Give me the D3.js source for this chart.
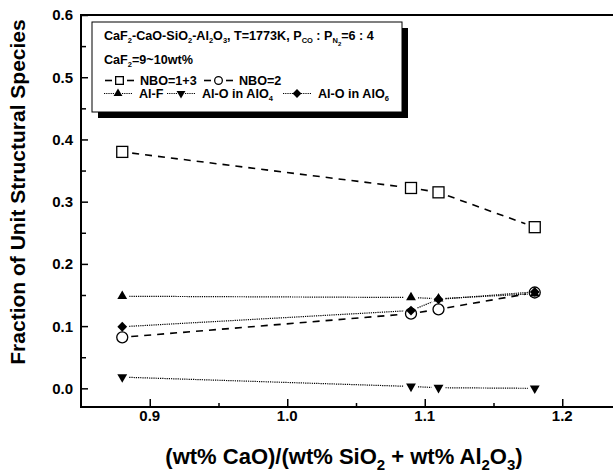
<!DOCTYPE html>
<html>
<head>
<meta charset="utf-8">
<script src="https://cdn.jsdelivr.net/npm/d3@7"></script>
<style>
  html, body { margin: 0; padding: 0; background: #fff; }
  svg { display: block; }
  text { font-family: "Liberation Sans", Arial, Helvetica, sans-serif; font-weight: bold; fill: #000; }
</style>
</head>
<body>
<div id="chart"></div>
<script>
// ---- data ----
const xValues = [0.88, 1.09, 1.11, 1.18];
const nbo13 = [0.380, 0.322, 0.315, 0.259];
const nbo2 = [0.082, 0.120, 0.127, 0.154];
const alF = [0.148, 0.146, 0.144, 0.152];
const alO4 = [0.018, 0.003, 0.001, 0.000];
const alO6 = [0.099, 0.125, 0.143, 0.155];
const xTickValues = [0.9, 1.0, 1.1, 1.2];
const xTickLabels = ["0.9", "1.0", "1.1", "1.2"];
const yTickValues = [0.0, 0.1, 0.2, 0.3, 0.4, 0.5, 0.6];
const yTickLabels = ["0.0", "0.1", "0.2", "0.3", "0.4", "0.5", "0.6"];

const W = 613, H = 473;
const svg = d3.select("#chart").append("svg").attr("width", W).attr("height", H);

const x = d3.scaleLinear().domain([0.85, 1.25]).range([81, 631]);
const y = d3.scaleLinear().domain([-0.03, 0.6]).range([407, 15]);

// ---- axes ----
const yAxis = d3.axisRight(y).tickValues(yTickValues).tickSize(7).tickFormat("");
const yMinor = d3.axisRight(y).tickValues([0.05, 0.15, 0.25, 0.35, 0.45, 0.55]).tickSize(5).tickFormat("");
const xAxis = d3.axisTop(x).tickValues(xTickValues).tickSize(8).tickFormat("");
const xMinor = d3.axisTop(x).tickValues([0.95, 1.05, 1.15]).tickSize(4).tickFormat("");

function styleAxis(g) {
  g.select(".domain").remove();
  g.selectAll(".tick line").attr("stroke", "#000").attr("stroke-width", 1.5);
}
svg.append("g").attr("transform", "translate(81,0)").call(yAxis).call(styleAxis);
svg.append("g").attr("transform", "translate(81,0)").call(yMinor).call(styleAxis);
svg.append("g").attr("transform", "translate(0,407)").call(xAxis).call(styleAxis);
svg.append("g").attr("transform", "translate(0,407)").call(xMinor).call(styleAxis);

// frame lines
svg.append("line").attr("x1", 81).attr("x2", W).attr("y1", 15).attr("y2", 15).attr("stroke", "#000").attr("stroke-width", 2);
svg.append("line").attr("x1", 81).attr("x2", W).attr("y1", 407).attr("y2", 407).attr("stroke", "#000").attr("stroke-width", 2);
svg.append("line").attr("x1", 81).attr("x2", 81).attr("y1", 14).attr("y2", 408).attr("stroke", "#000").attr("stroke-width", 2);

// tick labels
svg.append("g").selectAll("text").data(yTickValues).join("text")
  .attr("x", 73).attr("y", d => y(d)).attr("dy", "0.36em")
  .attr("text-anchor", "end").style("font-size", "15px")
  .text((d, i) => yTickLabels[i]);
svg.append("g").selectAll("text").data(xTickValues).join("text")
  .attr("x", d => x(d)).attr("y", 421)
  .attr("text-anchor", "middle").style("font-size", "15px")
  .text((d, i) => xTickLabels[i]);

// rich text helper: parts = [[text, level]]; level 0 normal, 1 sub, 2 sub-sub
function rich(textSel, parts, base, subSize, shift) {
  let cur = 0;
  parts.forEach(([t, lvl]) => {
    const target = lvl * shift;
    const ts = textSel.append("tspan").text(t)
      .style("font-size", (lvl === 0 ? base : (lvl === 1 ? subSize : subSize * 0.8)) + "px");
    ts.attr("dy", target - cur);
    cur = target;
  });
}

// axis titles
const xt = svg.append("text").attr("x", 344).attr("y", 464).attr("text-anchor", "middle").style("font-size", "22px");
rich(xt, [["(wt% CaO)/(wt% SiO", 0], ["2", 1], [" + wt% Al", 0], ["2", 1], ["O", 0], ["3", 1], [")", 0]], 22, 15, 6);

svg.append("text")
  .attr("transform", "translate(25,192) rotate(-90)")
  .attr("text-anchor", "middle").style("font-size", "21px")
  .text("Fraction of Unit Structural Species");

// ---- series ----
const series = [
  { name: "NBO=1+3", values: nbo13, dash: "7,6", width: 1.6, sym: "square", trim: 10, dashed: true },
  { name: "NBO=2", values: nbo2, dash: "7,6", width: 1.6, sym: "circle", trim: 9, dashed: true },
  { name: "Al-F", values: alF, dash: "1.2,1", width: 1.2, sym: "up", trim: 7 },
  { name: "Al-O in AlO4", values: alO4, dash: "1.2,1", width: 1.2, sym: "down", trim: 7 },
  { name: "Al-O in AlO6", values: alO6, dash: "1.2,1", width: 1.2, sym: "diamond", trim: 7 }
];

function drawMarker(g, type, cx, cy, k = 1) {
  if (type === "square") {
    const h = 5.5 * k;
    g.append("rect").attr("x", cx - h).attr("y", cy - h).attr("width", 2 * h).attr("height", 2 * h)
      .attr("fill", "#fff").attr("stroke", "#000").attr("stroke-width", 1.3);
  } else if (type === "circle") {
    g.append("circle").attr("cx", cx).attr("cy", cy).attr("r", 5.5 * k)
      .attr("fill", "#fff").attr("stroke", "#000").attr("stroke-width", 1.3);
  } else if (type === "up") {
    g.append("path").attr("d", d3.symbol(d3.symbolTriangle, 42 * k * k)())
      .attr("transform", `translate(${cx},${cy})`).attr("fill", "#000");
  } else if (type === "down") {
    g.append("path").attr("d", d3.symbol(d3.symbolTriangle, 42 * k * k)())
      .attr("transform", `translate(${cx},${cy}) rotate(180)`).attr("fill", "#000");
  } else if (type === "diamond") {
    g.append("path").attr("d", d3.symbol(d3.symbolSquare, 48 * k * k)())
      .attr("transform", `translate(${cx},${cy}) rotate(45)`).attr("fill", "#000");
  }
}

function trimmedSegment(g, x1, y1, x2, y2, s) {
  const dx = x2 - x1, dy = y2 - y1, L = Math.hypot(dx, dy);
  if (L <= 2 * s.trim) return;
  const ux = dx / L, uy = dy / L;
  g.append("line")
    .attr("x1", x1 + ux * s.trim).attr("y1", y1 + uy * s.trim)
    .attr("x2", x2 - ux * s.trim).attr("y2", y2 - uy * s.trim)
    .attr("stroke", "#000").attr("stroke-width", s.width).attr("stroke-dasharray", s.dash);
}

const plot = svg.append("g");
series.forEach(s => {
  const g = plot.append("g");
  const pts = xValues.map((xv, i) => [x(xv), y(s.values[i])]);
  for (let i = 0; i < pts.length - 1; i++) trimmedSegment(g, pts[i][0], pts[i][1], pts[i + 1][0], pts[i + 1][1], s);
});
series.forEach(s => {
  const g = plot.append("g");
  xValues.forEach((xv, i) => drawMarker(g, s.sym, x(xv), y(s.values[i])));
});

// ---- legend ----
const lg = svg.append("g");
lg.append("rect").attr("x", 98).attr("y", 28).attr("width", 310).attr("height", 90).attr("fill", "#000");
lg.append("rect").attr("x", 92).attr("y", 22).attr("width", 310).attr("height", 90)
  .attr("fill", "#fff").attr("stroke", "#000").attr("stroke-width", 1);

const FS = 12.6, SUB = 7.5;
const l1 = lg.append("text").attr("x", 104).attr("y", 40).style("font-size", FS + "px");
rich(l1, [["CaF", 0], ["2", 1], ["-CaO-SiO", 0], ["2", 1], ["-Al", 0], ["2", 1], ["O", 0], ["3", 1],
  [", T=1773K, P", 0], ["CO", 1], [" : P", 0], ["N", 1], ["2", 2], ["=6 : 4", 0]], FS, SUB, 3);
const l2 = lg.append("text").attr("x", 104).attr("y", 64).style("font-size", FS + "px");
rich(l2, [["CaF", 0], ["2", 1], ["=9~10wt%", 0]], FS, SUB, 3);

function legendItem(x0, yc, s, label) {
  if (s.dashed) {
    lg.append("line").attr("x1", x0).attr("x2", x0 + 7).attr("y1", yc).attr("y2", yc)
      .attr("stroke", "#000").attr("stroke-width", 1.6);
    drawMarker(lg, s.sym, x0 + 14.5, yc, 0.7);
    lg.append("line").attr("x1", x0 + 22).attr("x2", x0 + 29).attr("y1", yc).attr("y2", yc)
      .attr("stroke", "#000").attr("stroke-width", 1.6);
  } else {
    lg.append("line").attr("x1", x0).attr("x2", x0 + 10).attr("y1", yc).attr("y2", yc)
      .attr("stroke", "#000").attr("stroke-width", s.width).attr("stroke-dasharray", s.dash);
    drawMarker(lg, s.sym, x0 + 14, yc, 0.9);
    lg.append("line").attr("x1", x0 + 18).attr("x2", x0 + 28).attr("y1", yc).attr("y2", yc)
      .attr("stroke", "#000").attr("stroke-width", s.width).attr("stroke-dasharray", s.dash);
  }
  const t = lg.append("text").attr("x", x0 + 35).attr("y", yc + 4.5).style("font-size", FS + "px");
  if (Array.isArray(label)) rich(t, label, FS, SUB, 3); else t.text(label);
}
legendItem(105, 80.5, series[0], "NBO=1+3");
legendItem(204, 80.5, series[1], "NBO=2");
legendItem(104, 93.5, series[2], "Al-F");
legendItem(167, 93.5, series[3], [["Al-O in AlO", 0], ["4", 1]]);
legendItem(283, 93.5, series[4], [["Al-O in AlO", 0], ["6", 1]]);
</script>
</body>
</html>
